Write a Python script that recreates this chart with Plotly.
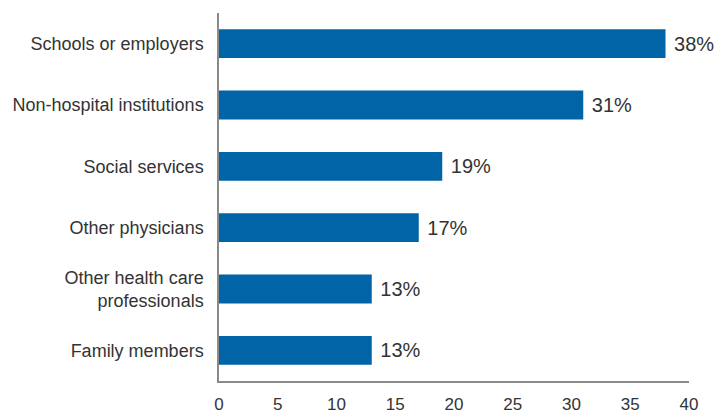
import plotly.graph_objects as go

categories = ["Schools or employers", "Non-hospital institutions", "Social services",
              "Other physicians", "Other health care<br>professionals", "Family members"]
values = [38, 31, 19, 17, 13, 13]
labels = [f" {v}%" for v in values]

fig = go.Figure(go.Bar(
    x=values, y=categories, orientation="h",
    marker=dict(color="#0064a6", line=dict(width=0)),
    text=labels, textposition="outside", cliponaxis=False,
    textfont=dict(size=20, color="#333333"),
))

fig.update_layout(
    width=719, height=415,
    margin=dict(l=219, r=30, t=13, b=34),
    paper_bgcolor="white", plot_bgcolor="white",
    font=dict(family="Liberation Sans, Arial, sans-serif", size=18, color="#333333"),
    bargap=0.53,
    showlegend=False,
    xaxis=dict(range=[0, 40], dtick=5, showgrid=False, zeroline=False,
               showline=True, linecolor="#8a8a8a", linewidth=1.5,
               ticks="", tickfont=dict(size=17), ticklabelstandoff=7,
               automargin=False),
    yaxis=dict(autorange="reversed", showgrid=False, zeroline=False,
               showline=True, linecolor="#8a8a8a", linewidth=1.5,
               ticks="", tickfont=dict(size=18), ticklabelstandoff=10,
               automargin=False),
)

fig.write_html("out.html")
